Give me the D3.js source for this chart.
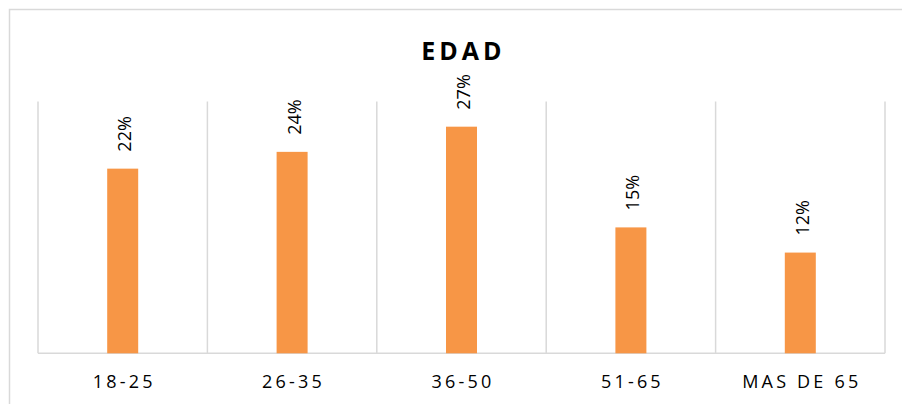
<!DOCTYPE html>
<html>
<head>
<meta charset="utf-8">
<script src="https://cdn.jsdelivr.net/npm/d3@7"></script>
<style>
  body { margin: 0; background: #fff; }
  svg { display: block; font-family: "Open Sans", sans-serif; }
</style>
</head>
<body>
<div id="chart"></div>
<script>
// EDAD bar chart

const categories = ["18-25", "26-35", "36-50", "51-65", "MAS DE 65"];
const values = [22, 24, 27, 15, 12];
const yDomain = [0, 30];

const width = 902, height = 404;
const plot = { left: 38, right: 885, top: 101.5, bottom: 353.3 };

const svg = d3.select("#chart")
  .append("svg")
  .attr("width", width)
  .attr("height", height);

// outer chart border
svg.append("rect")
  .attr("x", 9.5).attr("y", 9.5)
  .attr("width", 920).attr("height", 420)
  .attr("fill", "#fff")
  .attr("stroke", "#d9d9d9")
  .attr("stroke-width", 1.5);

const x = d3.scaleBand()
  .domain(categories)
  .range([plot.left, plot.right])
  .padding(0);

const y = d3.scaleLinear()
  .domain(yDomain)
  .range([plot.bottom, plot.top]);

// vertical gridlines at category boundaries
const edges = categories.map(c => x(c)).concat([x(categories[categories.length - 1]) + x.bandwidth()]);
svg.append("g")
  .selectAll("line")
  .data(edges)
  .enter()
  .append("line")
  .attr("x1", d => d).attr("x2", d => d)
  .attr("y1", y(yDomain[1])).attr("y2", y(0))
  .attr("stroke", "#d9d9d9")
  .attr("stroke-width", 1.5);

// baseline
svg.append("line")
  .attr("x1", plot.left).attr("x2", plot.right)
  .attr("y1", y(0)).attr("y2", y(0))
  .attr("stroke", "#d9d9d9")
  .attr("stroke-width", 1.5);

const data = categories.map((c, i) => ({ cat: c, value: values[i] }));
const barW = x.bandwidth() * 0.183;

svg.append("g")
  .selectAll("rect")
  .data(data)
  .enter()
  .append("rect")
  .attr("x", d => x(d.cat) + x.bandwidth() / 2 - barW / 2)
  .attr("y", d => y(d.value))
  .attr("width", barW)
  .attr("height", d => y(0) - y(d.value))
  .attr("fill", "#f79646");

// value labels, rotated
svg.append("g")
  .selectAll("text")
  .data(data)
  .enter()
  .append("text")
  .attr("transform", d => `translate(${x(d.cat) + x.bandwidth() / 2 + 8.5}, ${y(d.value) - 17}) rotate(-90)`)
  .attr("text-anchor", "start")
  .style("font-size", "18px")
  .style("fill", "#000")
  .text(d => d.value + "%");

// category labels
svg.append("g")
  .selectAll("text")
  .data(categories)
  .enter()
  .append("text")
  .attr("x", d => x(d) + x.bandwidth() / 2 + 1.5)
  .attr("y", 388)
  .attr("text-anchor", "middle")
  .style("font-size", "18px")
  .style("letter-spacing", "3.2px")
  .style("fill", "#000")
  .text(d => d);

// title
svg.append("text")
  .attr("x", (plot.left + plot.right) / 2 + 2)
  .attr("y", 60)
  .attr("text-anchor", "middle")
  .style("font-size", "25px")
  .style("font-weight", "700")
  .style("letter-spacing", "4px")
  .style("fill", "#000")
  .text("EDAD");
</script>
</body>
</html>
